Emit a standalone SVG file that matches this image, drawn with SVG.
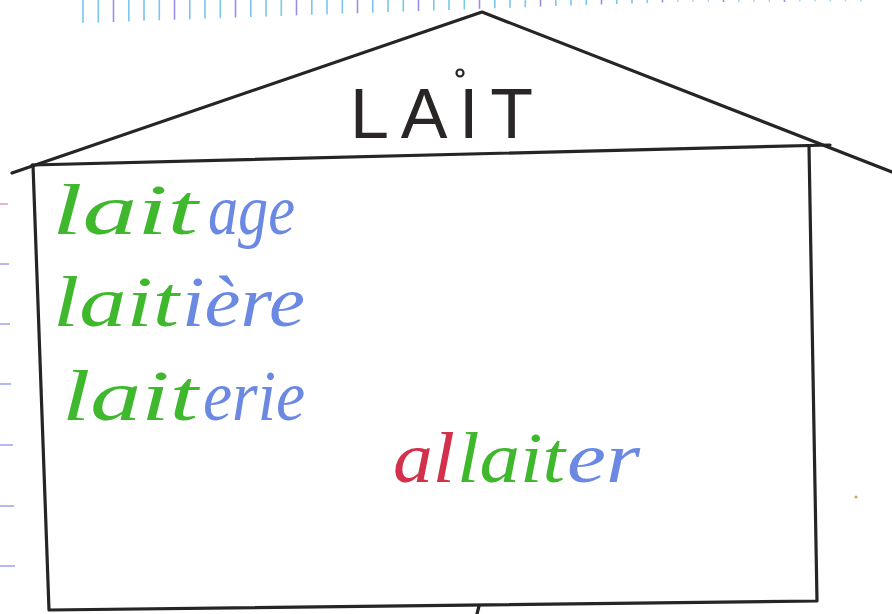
<svg xmlns="http://www.w3.org/2000/svg" width="892" height="614" viewBox="0 0 892 614">
<style>
.tb{stroke:#79c6f0;stroke-width:1.6}
.tp{stroke:#9d8ce6;stroke-width:1.6}
.tf{stroke:#9fd6f4;stroke-width:1.4}
.mk{stroke:#8f92ea;stroke-width:1.3}
.ln{stroke:#262424;stroke-width:3.2;fill:none;stroke-linecap:round;stroke-linejoin:round}
.w{font-family:"Liberation Serif","DejaVu Serif",serif;font-style:italic;font-size:72px}
.g{fill:#3fb82e}
.b{fill:#6b88e2}
.r{fill:#d3304b}
.title{font-family:"Liberation Sans","DejaVu Sans",sans-serif;font-size:70px;fill:#2a2626}
</style>
<rect width="892" height="614" fill="#ffffff"/>
<g id="ruler">
<line class="tb" x1="83" y1="0" x2="83" y2="23"/>
<line class="tb" x1="98.3" y1="0" x2="98.3" y2="22.5"/>
<line class="tp" x1="113.5" y1="0" x2="113.5" y2="22"/>
<line class="tb" x1="128.8" y1="0" x2="128.8" y2="21.4"/>
<line class="tb" x1="144" y1="0" x2="144" y2="20.8"/>
<line class="tb" x1="159.3" y1="0" x2="159.3" y2="20.3"/>
<line class="tp" x1="174.5" y1="0" x2="174.5" y2="19.7"/>
<line class="tb" x1="189.8" y1="0" x2="189.8" y2="19.2"/>
<line class="tb" x1="205" y1="0" x2="205" y2="18.6"/>
<line class="tb" x1="220.3" y1="0" x2="220.3" y2="18.1"/>
<line class="tp" x1="235.5" y1="0" x2="235.5" y2="17.6"/>
<line class="tb" x1="250.8" y1="0" x2="250.8" y2="17"/>
<line class="tb" x1="266" y1="0" x2="266" y2="16.5"/>
<line class="tb" x1="281.3" y1="0" x2="281.3" y2="15.9"/>
<line class="tp" x1="296.5" y1="0" x2="296.5" y2="15.4"/>
<line class="tb" x1="311.8" y1="0" x2="311.8" y2="14.8"/>
<line class="tb" x1="327" y1="0" x2="327" y2="14.3"/>
<line class="tb" x1="342.3" y1="0" x2="342.3" y2="13.7"/>
<line class="tp" x1="357.5" y1="0" x2="357.5" y2="13.2"/>
<line class="tb" x1="372.8" y1="0" x2="372.8" y2="12.7"/>
<line class="tb" x1="388" y1="0" x2="388" y2="12.1"/>
<line class="tb" x1="403.3" y1="0" x2="403.3" y2="11.6"/>
<line class="tp" x1="418.5" y1="0" x2="418.5" y2="11"/>
<line class="tb" x1="433.8" y1="0" x2="433.8" y2="10.5"/>
<line class="tb" x1="449" y1="0" x2="449" y2="9.9"/>
<line class="tb" x1="464.3" y1="0" x2="464.3" y2="9.4"/>
<line class="tp" x1="479.5" y1="0" x2="479.5" y2="8.8"/>
<line class="tb" x1="494.8" y1="0" x2="494.8" y2="8.3"/>
<line class="tb" x1="510" y1="0" x2="510" y2="7.7"/>
<line class="tb" x1="525.3" y1="0" x2="525.3" y2="7.2"/>
<line class="tp" x1="540.5" y1="0" x2="540.5" y2="6.7"/>
<line class="tb" x1="555.8" y1="0" x2="555.8" y2="6.1"/>
<line class="tb" x1="571" y1="0" x2="571" y2="5.6"/>
<line class="tb" x1="586.3" y1="0" x2="586.3" y2="5"/>
<line class="tp" x1="601.5" y1="0" x2="601.5" y2="4.5"/>
<line class="tb" x1="616.8" y1="0" x2="616.8" y2="3.9"/>
<line class="tb" x1="632" y1="0" x2="632" y2="3.4"/>
<line class="tb" x1="647.3" y1="0" x2="647.3" y2="2.9"/>
<line class="tp" x1="662.5" y1="0" x2="662.5" y2="2.5"/>
<line class="tf" x1="677.8" y1="0" x2="677.8" y2="2"/>
<line class="tf" x1="693" y1="0" x2="693" y2="2"/>
<line class="tf" x1="708.3" y1="0" x2="708.3" y2="2"/>
<line class="tp" x1="723.5" y1="0" x2="723.5" y2="2"/>
<line class="tf" x1="738.8" y1="0" x2="738.8" y2="2"/>
<line class="tf" x1="754" y1="0" x2="754" y2="2"/>
<line class="tf" x1="769.3" y1="0" x2="769.3" y2="2"/>
<line class="tp" x1="784.5" y1="0" x2="784.5" y2="2"/>
<line class="tf" x1="799.8" y1="0" x2="799.8" y2="1.5"/>
<line class="tf" x1="815" y1="0" x2="815" y2="1.5"/>
<line class="tf" x1="830.3" y1="0" x2="830.3" y2="1.5"/>
<line class="tf" x1="845.5" y1="0" x2="845.5" y2="1.5"/>
<line class="tf" x1="860.8" y1="0" x2="860.8" y2="1.5"/>
</g>
<g id="margin">
<line x1="0" y1="204" x2="8" y2="204" stroke="#e98aa2" stroke-width="1.3"/>
<line class="mk" x1="0" y1="264" x2="9" y2="264"/>
<line class="mk" x1="0" y1="324" x2="10" y2="324"/>
<line class="mk" x1="0" y1="384" x2="11" y2="384"/>
<line class="mk" x1="0" y1="445" x2="13" y2="445"/>
<line class="mk" x1="0" y1="506" x2="14" y2="506"/>
<line class="mk" x1="0" y1="566" x2="15" y2="566"/>
</g>
<g id="house">
<path class="ln" d="M12,173 L482,12 L892,172"/>
<path class="ln" d="M32,165 L830,145"/>
<path class="ln" d="M33,165 L49,610 L817,601 L809,146"/>
<line class="ln" x1="479" y1="606" x2="477" y2="614"/>
<circle cx="856" cy="497" r="1.5" fill="#d69a5a"/>
</g>
<g id="title">
<text class="title" x="350" y="138" textLength="183" lengthAdjust="spacing">LAIT</text>
<circle cx="460" cy="73" r="3.5" fill="none" stroke="#2a2626" stroke-width="2.2"/>
</g>
<g id="words">
<text id="laitage" class="w" y="234"><tspan class="g" x="52" textLength="146" lengthAdjust="spacingAndGlyphs">lait</tspan><tspan class="b" x="208" textLength="87" lengthAdjust="spacingAndGlyphs">age</tspan></text>
<text id="laitiere" class="w" y="326"><tspan class="g" x="53" textLength="126" lengthAdjust="spacingAndGlyphs">lait</tspan><tspan class="b" x="182" textLength="123" lengthAdjust="spacingAndGlyphs">ière</tspan></text>
<text id="laiterie" class="w" y="420"><tspan class="g" x="62" textLength="136" lengthAdjust="spacingAndGlyphs">lait</tspan><tspan class="b" x="203" textLength="102" lengthAdjust="spacingAndGlyphs">erie</tspan></text>
<text id="allaiter" class="w" y="482"><tspan class="r" x="393" textLength="62" lengthAdjust="spacingAndGlyphs">al</tspan><tspan class="g" x="457" textLength="108" lengthAdjust="spacingAndGlyphs">lait</tspan><tspan class="b" x="567" textLength="73" lengthAdjust="spacingAndGlyphs">er</tspan></text>
</g>
</svg>
